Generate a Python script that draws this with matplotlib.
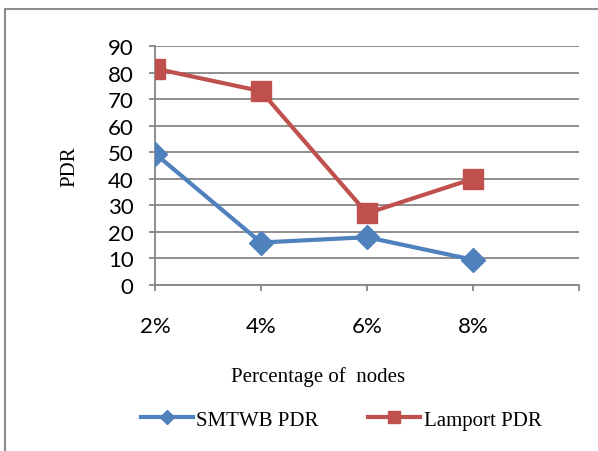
import matplotlib.pyplot as plt
from matplotlib.lines import Line2D
from matplotlib.patches import Rectangle

categories = ["2%", "4%", "6%", "8%"]
smtwb_pdr = [49.5, 16, 18, 9.5]
lamport_pdr = [81.5, 73, 27, 40]
y_ticks = [0, 10, 20, 30, 40, 50, 60, 70, 80, 90]

BLUE = "#4F81BD"
RED = "#C0504D"
GRID = "#868686"

W, H = 598, 452
fig = plt.figure(figsize=(W / 100, H / 100), dpi=100)

# outer chart frame, running off the right and bottom edges
fig.add_artist(Rectangle((5 / W, -0.1), 1.2, 1 - 10 / H + 0.1, transform=fig.transFigure,
                         fill=False, edgecolor="#8C8C8C", linewidth=1.5))

ax = fig.add_axes([155 / W, 1 - 286 / H, (579 - 155) / W, (286 - 47) / H])
x = list(range(len(categories)))

ax.plot(x, smtwb_pdr, color=BLUE, linewidth=3, marker="D", markersize=12, zorder=3)
ax.plot(x, lamport_pdr, color=RED, linewidth=3, marker="s", markersize=14, zorder=4)

ax.set_xlim(0, 4)
ax.set_ylim(0, 90)
ax.set_yticks(y_ticks)
ax.set_xticks([0, 1, 2, 3, 4])
ax.set_xticklabels(categories + [""])
ax.grid(axis="y", color=GRID, linewidth=1.3)
ax.set_axisbelow(True)
for side in ("top", "right"):
    ax.spines[side].set_visible(False)
for side in ("left", "bottom"):
    ax.spines[side].set_color(GRID)
    ax.spines[side].set_linewidth(1.3)
ax.tick_params(axis="both", colors=GRID, length=4.5, width=1.3, direction="out")
ax.tick_params(axis="y", labelcolor="black", labelsize=16, pad=11)
ax.tick_params(axis="x", labelcolor="black", labelsize=16, pad=18)
for lbl in ax.get_xticklabels() + ax.get_yticklabels():
    lbl.set_fontfamily("Lato")

ax.set_ylabel("PDR", family="Liberation Serif", fontsize=15, va="center")
ax.yaxis.set_label_coords((70 - 155) / 424, 0.5)
ax.set_xlabel("Percentage of  nodes", family="Liberation Serif", fontsize=15, va="center")
ax.xaxis.set_label_coords((318 - 155) / 424, (286 - 377) / 239)

handles = [
    Line2D([], [], color=BLUE, linewidth=3, marker="D", markersize=7),
    Line2D([], [], color=RED, linewidth=3, marker="s", markersize=8),
]
fig.legend(handles, ["SMTWB PDR", "Lamport PDR"], loc="center", bbox_to_anchor=(341 / W, 1 - 421 / H),
           ncol=2, frameon=False, prop={"family": "Liberation Serif", "size": 15},
           handlelength=2.5, handletextpad=0.15, columnspacing=2.4, borderpad=0, borderaxespad=0)

fig.savefig("out.png", dpi=100)
